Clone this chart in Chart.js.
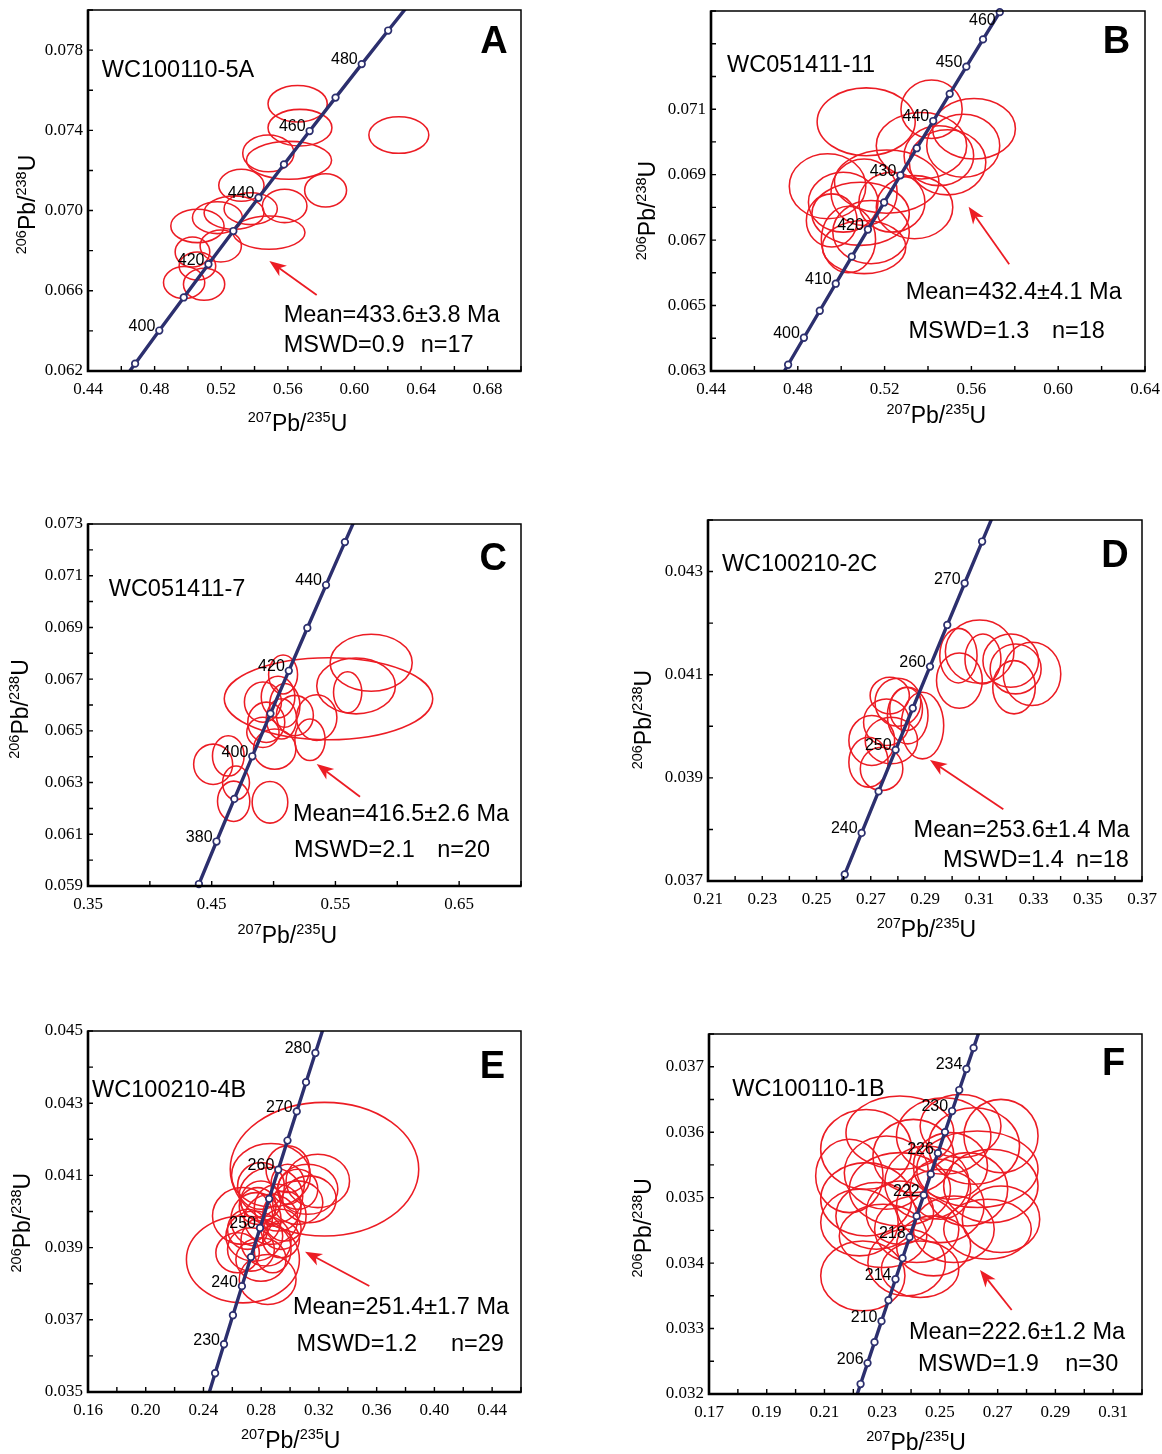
<!DOCTYPE html>
<html lang="en">
<head>
<meta charset="utf-8">
<title>Zircon U–Pb concordia diagrams</title>
<script src="https://cdn.jsdelivr.net/npm/chart.js@4.4.1/dist/chart.umd.min.js"></script>
<style>
  html, body { margin: 0; padding: 0; background: #ffffff; }
  body { position: relative; width: 1162px; height: 1454px; overflow: hidden; }
  canvas { position: absolute; }
</style>
</head>
<body>
<script>
// ---------------------------------------------------------------
// Concordia reference points: age (Ma), 207Pb/235U, 206Pb/238U
// ---------------------------------------------------------------
const agesA = [380,390,400,410,420,430,440,450,460,470,480,490,500];
const concXA = [0.45389,0.46828,0.48281,0.49749,0.51231,0.52728,0.54239,0.55766,0.57307,0.58864,0.60436,0.62024,0.63628];
const concYA = [0.060720,0.062367,0.064016,0.065667,0.067322,0.068979,0.070638,0.072300,0.073965,0.075632,0.077303,0.078975,0.080650];
const ageLabelsA = [400,420,440,460,480];

const agesB = [390,395,400,405,410,415,420,425,430,435,440,445,450,455,460,465];
const concXB = [0.46828,0.47553,0.48281,0.49013,0.49749,0.50488,0.51231,0.51977,0.52728,0.53482,0.54239,0.55000,0.55766,0.56535,0.57307,0.58084];
const concYB = [0.062367,0.063191,0.064016,0.064841,0.065667,0.066494,0.067322,0.068150,0.068979,0.069808,0.070638,0.071469,0.072300,0.073132,0.073965,0.074798];
const ageLabelsB = [400,410,420,430,440,450,460];

const agesC = [360,370,380,390,400,410,420,430,440,450,460];
const concXC = [0.42553,0.43964,0.45389,0.46828,0.48281,0.49749,0.51231,0.52728,0.54239,0.55766,0.57307];
const concYC = [0.057434,0.059076,0.060720,0.062367,0.064016,0.065667,0.067322,0.068979,0.070638,0.072300,0.073965];
const ageLabelsC = [380,400,420,440];

const agesD = [230,235,240,245,250,255,260,265,270,275,280];
const concXD = [0.25422,0.26041,0.26664,0.27289,0.27917,0.28549,0.29183,0.29821,0.30462,0.31106,0.31753];
const concYD = [0.036323,0.037127,0.037932,0.038737,0.039543,0.040350,0.041157,0.041965,0.042773,0.043582,0.044392];
const ageLabelsD = [240,250,260,270];

const agesE = [220,225,230,235,240,245,250,255,260,265,270,275,280,285];
const concXE = [0.24193,0.24806,0.25422,0.26041,0.26664,0.27289,0.27917,0.28549,0.29183,0.29821,0.30462,0.31106,0.31753,0.32403];
const concYE = [0.034717,0.035519,0.036323,0.037127,0.037932,0.038737,0.039543,0.040350,0.041157,0.041965,0.042773,0.043582,0.044392,0.045202];
const ageLabelsE = [230,240,250,260,270,280];

const agesF = [202,204,206,208,210,212,214,216,218,220,222,224,226,228,230,232,234,236,238];
const concXF = [0.22011,0.22251,0.22492,0.22734,0.22976,0.23218,0.23461,0.23705,0.23949,0.24193,0.24438,0.24683,0.24929,0.25175,0.25422,0.25669,0.25917,0.26166,0.26414];
const concYF = [0.031831,0.032152,0.032472,0.032792,0.033113,0.033433,0.033754,0.034075,0.034396,0.034717,0.035038,0.035359,0.035680,0.036001,0.036323,0.036644,0.036966,0.037288,0.037610];
const ageLabelsF = [206,210,214,218,222,226,230,234];

// ---------------------------------------------------------------
// Spot analyses: ellipse centre (207/235, 206/238) and half-axes
// ---------------------------------------------------------------
const ellXA  = [0.56588,0.56728,0.62664,0.54829,0.56068,0.58267,0.53210,0.55808,0.54869,0.53769,0.52770,0.51771,0.50571,0.50272,0.51971,0.50571,0.49772,0.50971];
const ellYA  = [0.075327,0.074131,0.073766,0.072852,0.072503,0.071009,0.071258,0.070228,0.068900,0.070095,0.069896,0.069647,0.069232,0.067936,0.068235,0.067239,0.066409,0.066326];
const ellRxA = [0.01779,0.01919,0.01799,0.01539,0.02558,0.01259,0.01359,0.01339,0.02159,0.01599,0.01799,0.01499,0.01599,0.01039,0.01239,0.01099,0.01239,0.01239];
const ellRyA = [0.000913,0.000913,0.000913,0.000913,0.000947,0.000830,0.000797,0.000830,0.000830,0.000797,0.000830,0.000797,0.000830,0.000747,0.000797,0.000698,0.000797,0.000797];

const ellXB  = [0.51151,0.54164,0.56120,0.55623,0.53699,0.54902,0.54501,0.49371,0.52096,0.53379,0.51054,0.49563,0.50894,0.51375,0.50333,0.51054,0.52337,0.50093];
const ellYB  = [0.070615,0.071000,0.070402,0.069884,0.069884,0.069376,0.069579,0.068645,0.068787,0.068006,0.068463,0.067600,0.067803,0.067244,0.067021,0.066788,0.068158,0.068158];
const ellRxB = [0.02260,0.01411,0.01908,0.01683,0.02084,0.01763,0.01603,0.01763,0.02405,0.01763,0.01523,0.01170,0.02244,0.01763,0.01250,0.01924,0.01523,0.01603];
const ellRyB = [0.001036,0.000893,0.000924,0.000964,0.001015,0.000995,0.000914,0.000995,0.000964,0.000964,0.001015,0.000812,0.000964,0.000964,0.001015,0.000812,0.000914,0.000914];

const ellXC  = [0.54439,0.57891,0.56668,0.55988,0.50769,0.49138,0.50362,0.50905,0.49410,0.50633,0.51721,0.53487,0.49138,0.52944,0.50090,0.45116,0.46339,0.46964,0.46774,0.49709];
const ellYC  = [0.066243,0.067634,0.066737,0.066490,0.067179,0.066113,0.066308,0.065983,0.065332,0.065462,0.065592,0.065514,0.064942,0.064656,0.064292,0.063707,0.064032,0.062991,0.062276,0.062237];
const ellRxC = [0.08426,0.03316,0.03180,0.01142,0.01169,0.01495,0.01359,0.01223,0.01495,0.01223,0.01495,0.01631,0.01305,0.01223,0.01712,0.01577,0.01278,0.01087,0.01305,0.01441];
const ellRyC = [0.001587,0.001105,0.001080,0.000793,0.000754,0.000780,0.000806,0.000845,0.000780,0.000780,0.000780,0.000884,0.000585,0.000806,0.000780,0.000780,0.000780,0.000650,0.000780,0.000806];

const ellXD  = [0.30268,0.31016,0.30232,0.31136,0.32161,0.32342,0.32282,0.32945,0.28001,0.27700,0.28363,0.28906,0.27579,0.27037,0.27760,0.26916,0.27399,0.28303];
const ellYD  = [0.040886,0.041448,0.041370,0.041305,0.041273,0.041112,0.040757,0.041015,0.040466,0.040595,0.040208,0.040014,0.040079,0.039724,0.039724,0.039304,0.039175,0.040337];
const ellRxD = [0.00844,0.01266,0.00687,0.00663,0.01025,0.00940,0.00784,0.01061,0.00844,0.00723,0.00748,0.00784,0.00844,0.00844,0.00965,0.00723,0.00784,0.00603];
const ellRyD = [0.000536,0.000613,0.000529,0.000484,0.000516,0.000484,0.000516,0.000613,0.000465,0.000355,0.000549,0.000646,0.000452,0.000484,0.000452,0.000484,0.000420,0.000420];

const ellXE  = [0.32384,0.26733,0.28679,0.29837,0.31921,0.31226,0.31342,0.30532,0.28679,0.27984,0.29142,0.26710,0.27637,0.28679,0.29605,0.27521,0.28331,0.27289,0.28795,0.27984,0.28447,0.29374,0.30532,0.27984,0.29837,0.27058,0.26363,0.29374,0.27752];
const ellYE  = [0.041172,0.038672,0.041005,0.041172,0.040848,0.040616,0.040339,0.040616,0.040431,0.040292,0.040107,0.039876,0.039783,0.039783,0.039876,0.039320,0.039182,0.038950,0.038950,0.038672,0.038117,0.039506,0.040246,0.040709,0.040755,0.039506,0.038858,0.039228,0.040153];
const ellRxE = [0.06531,0.03914,0.02733,0.01505,0.02200,0.02084,0.01853,0.01390,0.02200,0.01390,0.01621,0.02084,0.01737,0.01853,0.01505,0.01968,0.01737,0.01621,0.01274,0.01737,0.01968,0.01390,0.01737,0.01621,0.01158,0.01390,0.01505,0.01274,0.01274];
const ellRyE = [0.001851,0.001203,0.000879,0.000648,0.000740,0.000694,0.000648,0.000555,0.000787,0.000555,0.000648,0.000787,0.000740,0.000694,0.000694,0.000694,0.000694,0.000602,0.000648,0.000602,0.000694,0.000555,0.000602,0.000648,0.000555,0.000555,0.000555,0.000509,0.000509];

const ellXF  = [0.22329,0.23846,0.27115,0.27115,0.22445,0.23613,0.25130,0.26181,0.26297,0.22445,0.22212,0.23613,0.24547,0.25013,0.24196,0.25480,0.23029,0.24080,0.25364,0.23146,0.21862,0.24780,0.25947,0.26764,0.23613,0.25013,0.22796,0.25714,0.24313,0.26648];
const ellYF  = [0.033805,0.034008,0.034670,0.035941,0.035738,0.035992,0.035941,0.035789,0.035433,0.034975,0.034619,0.035128,0.035229,0.034873,0.034517,0.034517,0.034415,0.035636,0.035484,0.035382,0.035331,0.034263,0.035128,0.035178,0.034771,0.035128,0.034721,0.036094,0.033907,0.034517];
const ellRxF = [0.01459,0.01342,0.01342,0.01284,0.01576,0.01868,0.01634,0.01576,0.02101,0.01576,0.01342,0.01751,0.01459,0.01517,0.01459,0.01401,0.01517,0.01401,0.01284,0.01459,0.01167,0.01284,0.01401,0.01634,0.01167,0.01051,0.01401,0.01401,0.01342,0.01517];
const ellRyF = [0.000534,0.000509,0.000509,0.000560,0.000610,0.000560,0.000585,0.000585,0.000585,0.000560,0.000509,0.000560,0.000560,0.000560,0.000509,0.000509,0.000483,0.000560,0.000509,0.000560,0.000560,0.000458,0.000560,0.000560,0.000483,0.000458,0.000509,0.000483,0.000432,0.000458];

// Pointer arrows in data units: [tail x, tail y, tip x, tip y]
const arrowA = [0.57732,0.065789,0.54889,0.067485];
const arrowB = [0.57742,0.066260,0.55871,0.068017];
const arrowC = [0.56987,0.062454,0.53487,0.063718];
const arrowD = [0.31887,0.038390,0.29184,0.039346];
const arrowE = [0.35490,0.037936,0.31035,0.038886];
const arrowF = [0.27486,0.033283,0.26388,0.033894];

// ---------------------------------------------------------------
// Axis limits and tick labels
// ---------------------------------------------------------------
const xRangeA = [0.44,0.70], yRangeA = [0.062,0.080];
const xTickLabelsA = ['0.44','0.48','0.52','0.56','0.60','0.64','0.68'];
const yTickLabelsA = ['0.062','0.066','0.070','0.074','0.078'];

const xRangeB = [0.44,0.64], yRangeB = [0.063,0.074];
const xTickLabelsB = ['0.44','0.48','0.52','0.56','0.60','0.64'];
const yTickLabelsB = ['0.063','0.065','0.067','0.069','0.071'];

const xRangeC = [0.35,0.70], yRangeC = [0.059,0.073];
const xTickLabelsC = ['0.35','0.45','0.55','0.65'];
const yTickLabelsC = ['0.059','0.061','0.063','0.065','0.067','0.069','0.071','0.073'];

const xRangeD = [0.21,0.37], yRangeD = [0.037,0.044];
const xTickLabelsD = ['0.21','0.23','0.25','0.27','0.29','0.31','0.33','0.35','0.37'];
const yTickLabelsD = ['0.037','0.039','0.041','0.043'];

const xRangeE = [0.16,0.46], yRangeE = [0.035,0.045];
const xTickLabelsE = ['0.16','0.20','0.24','0.28','0.32','0.36','0.40','0.44'];
const yTickLabelsE = ['0.035','0.037','0.039','0.041','0.043','0.045'];

const xRangeF = [0.17,0.32], yRangeF = [0.032,0.0375];
const xTickLabelsF = ['0.17','0.19','0.21','0.23','0.25','0.27','0.29','0.31'];
const yTickLabelsF = ['0.032','0.033','0.034','0.035','0.036','0.037'];

// Panel captions
const panelLetters = ['A','B','C','D','E','F'];
const sampleNames  = ['WC100110-5A','WC051411-11','WC051411-7','WC100210-2C','WC100210-4B','WC100110-1B'];
const meanTexts    = ['Mean=433.6\u00b13.8 Ma','Mean=432.4\u00b14.1 Ma','Mean=416.5\u00b12.6 Ma','Mean=253.6\u00b11.4 Ma','Mean=251.4\u00b11.7 Ma','Mean=222.6\u00b11.2 Ma'];
const mswdTexts    = ['MSWD=0.9','MSWD=1.3','MSWD=2.1','MSWD=1.4','MSWD=1.2','MSWD=1.9'];
const nTexts       = ['n=17','n=18','n=20','n=18','n=29','n=30'];

// ---------------------------------------------------------------
// Page geometry (pixels): plot box and caption offsets from its top-left
// ---------------------------------------------------------------
const layouts = [
  { box:[88,10,521,371],   minor:[0.02,0.002],  sample:[13.8,60.2], letter:[406,32.4],  mean:[195.7,305.8], mswd:[195.7,335.9], n:[332.7,335.9], xTitle:[209.5,412.8], yTitle:[-61.4,194.5] },
  { box:[711,11,1145,371], minor:[0.02,0.001],  sample:[16,54.9],   letter:[405.4,31.6],mean:[194.7,281.8], mswd:[197.5,320.4], n:[341,320.4],   xTitle:[225.3,404.2], yTitle:[-64,199.6] },
  { box:[88,524,521,886],  minor:[0.05,0.001],  sample:[20.7,65.4], letter:[405.1,35.2],mean:[205,291],     mswd:[206,326.8],   n:[349.2,326.8], xTitle:[199.3,410.7], yTitle:[-68.3,185] },
  { box:[708,520,1142,881],minor:[0.01,0.001],  sample:[13.9,44.9], letter:[407,36.6],  mean:[205.6,310.4], mswd:[235,340.3],   n:[368,340.3],   xTitle:[218.4,409.2], yTitle:[-64.6,199.6] },
  { box:[88,1031,521,1392],minor:[0.02,0.001],  sample:[4.1,59.3],  letter:[404.4,36.7],mean:[205,276.7],   mswd:[208.4,313.3], n:[363,313.3],   xTitle:[202.7,409.3], yTitle:[-65.6,191.7] },
  { box:[709,1034,1142,1394],minor:[0.01,0.0005],sample:[23.2,55.2],letter:[404.7,30.9],mean:[200,298.5],   mswd:[209,330.1],   n:[356.3,330.1], xTitle:[207,407.6],   yTitle:[-65.7,193.8] }
];

const panelData = [
  { ages:agesA, cx:concXA, cy:concYA, ageLabels:ageLabelsA, ex:ellXA, ey:ellYA, erx:ellRxA, ery:ellRyA, arrow:arrowA, xRange:xRangeA, yRange:yRangeA, xTicks:xTickLabelsA, yTicks:yTickLabelsA },
  { ages:agesB, cx:concXB, cy:concYB, ageLabels:ageLabelsB, ex:ellXB, ey:ellYB, erx:ellRxB, ery:ellRyB, arrow:arrowB, xRange:xRangeB, yRange:yRangeB, xTicks:xTickLabelsB, yTicks:yTickLabelsB },
  { ages:agesC, cx:concXC, cy:concYC, ageLabels:ageLabelsC, ex:ellXC, ey:ellYC, erx:ellRxC, ery:ellRyC, arrow:arrowC, xRange:xRangeC, yRange:yRangeC, xTicks:xTickLabelsC, yTicks:yTickLabelsC },
  { ages:agesD, cx:concXD, cy:concYD, ageLabels:ageLabelsD, ex:ellXD, ey:ellYD, erx:ellRxD, ery:ellRyD, arrow:arrowD, xRange:xRangeD, yRange:yRangeD, xTicks:xTickLabelsD, yTicks:yTickLabelsD },
  { ages:agesE, cx:concXE, cy:concYE, ageLabels:ageLabelsE, ex:ellXE, ey:ellYE, erx:ellRxE, ery:ellRyE, arrow:arrowE, xRange:xRangeE, yRange:yRangeE, xTicks:xTickLabelsE, yTicks:yTickLabelsE },
  { ages:agesF, cx:concXF, cy:concYF, ageLabels:ageLabelsF, ex:ellXF, ey:ellYF, erx:ellRxF, ery:ellRyF, arrow:arrowF, xRange:xRangeF, yRange:yRangeF, xTicks:xTickLabelsF, yTicks:yTickLabelsF }
];

// ---------------------------------------------------------------
// Styling
// ---------------------------------------------------------------
const RED = 'rgb(236,28,36)';
const NAVY = 'rgb(44,47,110)';
const SANS = '"Liberation Sans", Arial, Helvetica, sans-serif';
const SERIF = '"Liberation Serif", "Times New Roman", serif';
const AXIS_W = 85, TOP_PAD = 10, RIGHT_PAD = 16, AXIS_H = 72;

// 206Pb/238U style title with raised mass numbers
function drawIsotopeTitle(ctx, cx, cy, m1, m2, vertical) {
  const big = '23px ' + SANS, small = '14.5px ' + SANS;
  const parts = [[m1, true], ['Pb/', false], [m2, true], ['U', false]];
  const widths = parts.map(([t, sup]) => { ctx.font = sup ? small : big; return ctx.measureText(t).width; });
  const total = widths.reduce((s, w) => s + w, 0);
  ctx.save();
  ctx.translate(cx, cy);
  if (vertical) ctx.rotate(-Math.PI / 2);
  ctx.fillStyle = '#000';
  ctx.textAlign = 'left';
  ctx.textBaseline = 'alphabetic';
  let x = -total / 2;
  parts.forEach(([t, sup], i) => {
    ctx.font = sup ? small : big;
    ctx.fillText(t, x, sup ? -1 : 8);
    x += widths[i];
  });
  ctx.restore();
}

function drawArrow(ctx, x0, y0, x1, y1) {
  const ang = Math.atan2(y1 - y0, x1 - x0);
  const c = Math.cos(ang), s = Math.sin(ang);
  const len = 17, half = 6.5;
  const bx = x1 - len * c, by = y1 - len * s;
  ctx.save();
  ctx.strokeStyle = RED; ctx.fillStyle = RED; ctx.lineWidth = 1.8;
  ctx.beginPath(); ctx.moveTo(x0, y0); ctx.lineTo(x1 - len * 0.7 * c, y1 - len * 0.7 * s); ctx.stroke();
  ctx.beginPath();
  ctx.moveTo(x1, y1);
  ctx.lineTo(bx - half * s, by + half * c);
  ctx.lineTo(x1 - len * 0.72 * c, y1 - len * 0.72 * s);
  ctx.lineTo(bx + half * s, by - half * c);
  ctx.closePath(); ctx.fill();
  ctx.restore();
}

function decorations(D, L, idx) {
  return {
    id: 'concordiaDecor',
    beforeDatasetsDraw(chart) {
      const { ctx, chartArea: a, scales: { x, y } } = chart;
      ctx.save();
      ctx.beginPath(); ctx.rect(a.left, a.top, a.right - a.left, a.bottom - a.top); ctx.clip();
      ctx.strokeStyle = RED; ctx.lineWidth = 1.55;
      D.ex.forEach((vx, i) => {
        const px = x.getPixelForValue(vx), py = y.getPixelForValue(D.ey[i]);
        const rx = Math.abs(x.getPixelForValue(vx + D.erx[i]) - px);
        const ry = Math.abs(y.getPixelForValue(D.ey[i] + D.ery[i]) - py);
        ctx.beginPath(); ctx.ellipse(px, py, rx, ry, 0, 0, Math.PI * 2); ctx.stroke();
      });
      ctx.restore();
    },
    afterDatasetsDraw(chart) {
      const { ctx, chartArea: a, scales: { x, y } } = chart;
      // age labels beside the concordia markers
      ctx.save();
      ctx.fillStyle = '#000'; ctx.font = '16px ' + SANS;
      ctx.textAlign = 'right'; ctx.textBaseline = 'middle';
      D.ageLabels.forEach(age => {
        const i = D.ages.indexOf(age);
        const px = x.getPixelForValue(D.cx[i]), py = y.getPixelForValue(D.cy[i]);
        ctx.fillText(String(age), px - 4, Math.max(py - 4, a.top + 10));
      });
      ctx.restore();

      // arrow
      const [tx, ty, hx, hy] = D.arrow;
      drawArrow(ctx, x.getPixelForValue(tx), y.getPixelForValue(ty), x.getPixelForValue(hx), y.getPixelForValue(hy));

      // frame and inward tick marks
      ctx.save();
      ctx.strokeStyle = '#000';
      ctx.lineWidth = 1.5;
      ctx.strokeRect(a.left, a.top, a.right - a.left, a.bottom - a.top);
      ctx.lineWidth = 2.6;
      ctx.beginPath(); ctx.moveTo(a.left, a.top - 0.5); ctx.lineTo(a.left, a.bottom); ctx.lineTo(a.right + 0.5, a.bottom); ctx.stroke();
      ctx.lineWidth = 1.4;
      ctx.beginPath();
      for (let k = 0; ; k++) {
        const v = D.xRange[0] + k * L.minor[0];
        if (v > D.xRange[1] + 1e-9) break;
        const px = x.getPixelForValue(v);
        ctx.moveTo(px, a.bottom); ctx.lineTo(px, a.bottom - 5);
      }
      for (let k = 0; ; k++) {
        const v = D.yRange[0] + k * L.minor[1];
        if (v > D.yRange[1] + 1e-9) break;
        const py = y.getPixelForValue(v);
        ctx.moveTo(a.left, py); ctx.lineTo(a.left + 5, py);
      }
      ctx.stroke();
      ctx.restore();

      // captions
      const ox = a.left, oy = a.top;
      ctx.save();
      ctx.fillStyle = '#000'; ctx.textBaseline = 'middle'; ctx.textAlign = 'left';
      ctx.font = '23.5px ' + SANS;
      ctx.fillText(sampleNames[idx], ox + L.sample[0], oy + L.sample[1]);
      ctx.fillText(meanTexts[idx], ox + L.mean[0], oy + L.mean[1]);
      ctx.fillText(mswdTexts[idx], ox + L.mswd[0], oy + L.mswd[1]);
      ctx.fillText(nTexts[idx], ox + L.n[0], oy + L.n[1]);
      ctx.font = 'bold 38px ' + SANS; ctx.textAlign = 'center';
      ctx.fillText(panelLetters[idx], ox + L.letter[0], oy + L.letter[1]);
      ctx.restore();

      drawIsotopeTitle(ctx, ox + L.xTitle[0], oy + L.xTitle[1], '207', '235', false);
      drawIsotopeTitle(ctx, ox + L.yTitle[0], oy + L.yTitle[1], '206', '238', true);
    }
  };
}

function buildPanel(D, L, idx) {
  const [left, top, right, bottom] = L.box;
  const canvas = document.createElement('canvas');
  canvas.width = AXIS_W + (right - left) + RIGHT_PAD;
  canvas.height = TOP_PAD + (bottom - top) + AXIS_H;
  canvas.style.left = (left - AXIS_W) + 'px';
  canvas.style.top = (top - TOP_PAD) + 'px';
  canvas.style.width = canvas.width + 'px';
  canvas.style.height = canvas.height + 'px';
  document.body.appendChild(canvas);

  const line = D.ages.map((t, i) => ({ x: D.cx[i], y: D.cy[i] }));
  const inside = line.filter(p => p.x >= D.xRange[0] && p.x <= D.xRange[1] && p.y >= D.yRange[0] && p.y <= D.yRange[1]);

  const tickFont = { family: SERIF, size: 17 };
  new Chart(canvas, {
    type: 'scatter',
    data: {
      datasets: [
        { data: line, showLine: true, borderColor: NAVY, borderWidth: 3.4, pointRadius: 0, clip: 0, order: 2 },
        { data: inside, showLine: false, pointRadius: 3.3, pointBackgroundColor: '#ffffff', pointBorderColor: NAVY, pointBorderWidth: 1.7, clip: false, order: 1 }
      ]
    },
    options: {
      responsive: false,
      animation: false,
      events: [],
      layout: { padding: { left: 0, top: TOP_PAD, right: RIGHT_PAD, bottom: 0 } },
      plugins: { legend: { display: false }, tooltip: { enabled: false } },
      scales: {
        x: {
          type: 'linear', min: D.xRange[0], max: D.xRange[1],
          grid: { display: false, drawTicks: false }, border: { display: false },
          afterBuildTicks: s => { s.ticks = D.xTicks.map(v => ({ value: parseFloat(v) })); },
          afterFit: s => { s.height = AXIS_H; s.paddingLeft = 0; s.paddingRight = 0; },
          ticks: { autoSkip: false, maxRotation: 0, padding: 8, color: '#000', font: tickFont,
                   callback: (v, i) => D.xTicks[i] }
        },
        y: {
          type: 'linear', min: D.yRange[0], max: D.yRange[1],
          grid: { display: false, drawTicks: false }, border: { display: false },
          afterBuildTicks: s => { s.ticks = D.yTicks.map(v => ({ value: parseFloat(v) })); },
          afterFit: s => { s.width = AXIS_W; s.paddingTop = 0; s.paddingBottom = 0; },
          ticks: { autoSkip: false, padding: 5, color: '#000', font: tickFont,
                   callback: (v, i) => D.yTicks[i] }
        }
      }
    },
    plugins: [decorations(D, L, idx)]
  });
}

panelData.forEach((D, i) => buildPanel(D, layouts[i], i));
</script>
</body>
</html>
